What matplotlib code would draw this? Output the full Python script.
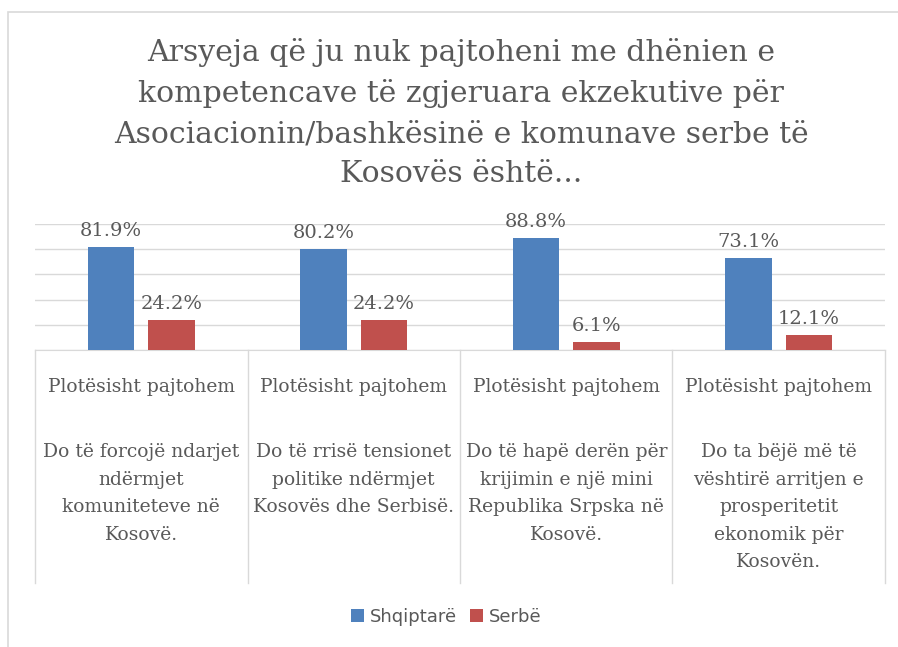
import matplotlib
matplotlib.use('Agg')
import matplotlib.pyplot as plt
from matplotlib.patches import Rectangle

title = ("Arsyeja që ju nuk pajtoheni me dhënien e\n"
         "kompetencave të zgjeruara ekzekutive për\n"
         "Asociacionin/bashkësinë e komunave serbe të\n"
         "Kosovës është...")
level1 = ["Plotësisht pajtohem"] * 4
level2 = ["Do të forcojë ndarjet\nndërmjet\nkomuniteteve në\nKosovë.",
          "Do të rrisë tensionet\npolitike ndërmjet\nKosovës dhe Serbisë.",
          "Do të hapë derën për\nkrijimin e një mini\nRepublika Srpska në\nKosovë.",
          "Do ta bëjë më të\nvështirë arritjen e\nprosperitetit\nekonomik për\nKosovën."]
series = ["Shqiptarë", "Serbë"]
shqiptare = [81.9, 80.2, 88.8, 73.1]
serbe = [24.2, 24.2, 6.1, 12.1]
colors = ["#4F81BD", "#C0504D"]

W, H = 898, 647
text_col = "#595959"
grid_col = "#D9D9D9"
serif = "DejaVu Serif"

fig = plt.figure(figsize=(W / 100, H / 100), dpi=100)
# chart border
fig.patches.append(Rectangle((8 / W, -0.1), 1.2, 1 - 12 / H + 0.1, transform=fig.transFigure,
                             fill=False, edgecolor=grid_col, linewidth=1.2))

ax = fig.add_axes([35 / W, (H - 350) / H, 850 / W, 126 / H])
x = list(range(len(shqiptare)))
bw = 0.22
off = 0.142
b1 = ax.bar([i - off for i in x], shqiptare, bw, color=colors[0], label=series[0], zorder=3)
b2 = ax.bar([i + off for i in x], serbe, bw, color=colors[1], label=series[1], zorder=3)
for bars, vals in ((b1, shqiptare), (b2, serbe)):
    for b, v in zip(bars, vals):
        ax.annotate(f"{v}%", (b.get_x() + b.get_width() / 2, v), xytext=(0, 5),
                    textcoords="offset points", ha="center", va="bottom",
                    fontsize=14, color=text_col, family=serif)

ax.set_xlim(-0.5, 3.5)
ax.set_ylim(0, 100)
ax.set_yticks([0, 20, 40, 60, 80, 100])
ax.yaxis.grid(True, color=grid_col, linewidth=1, zorder=0)
ax.set_xticks([])
ax.tick_params(left=False, labelleft=False)
for s in ["top", "right", "left"]:
    ax.spines[s].set_visible(False)
ax.spines["bottom"].set_color(grid_col)

tr = ax.get_xaxis_transform()
for k in range(len(x) + 1):
    ax.plot([k - 0.5, k - 0.5], [0, -233 / 126], transform=tr, color=grid_col,
            linewidth=1, clip_on=False)
for i in x:
    ax.text(i, -37 / 126, level1[i], transform=tr, ha="center", va="center",
            fontsize=13.5, color=text_col, family=serif)
    ax.text(i, -93 / 126, level2[i], transform=tr, ha="center", va="top",
            fontsize=13.5, color=text_col, family=serif, linespacing=1.68)

fig.text(461 / W, 1 - 113 / H, title, ha="center", va="center", fontsize=21.5,
         color=text_col, family=serif, linespacing=1.55)

leg = fig.legend(handles=[b1, b2], loc="center", bbox_to_anchor=(446 / W, 1 - 617 / H),
                 ncol=2, frameon=False, fontsize=13, handlelength=0.75, handleheight=0.75,
                 handletextpad=0.3, columnspacing=0.7)
for t in leg.get_texts():
    t.set_color(text_col)

fig.savefig("out.png", dpi=100)
